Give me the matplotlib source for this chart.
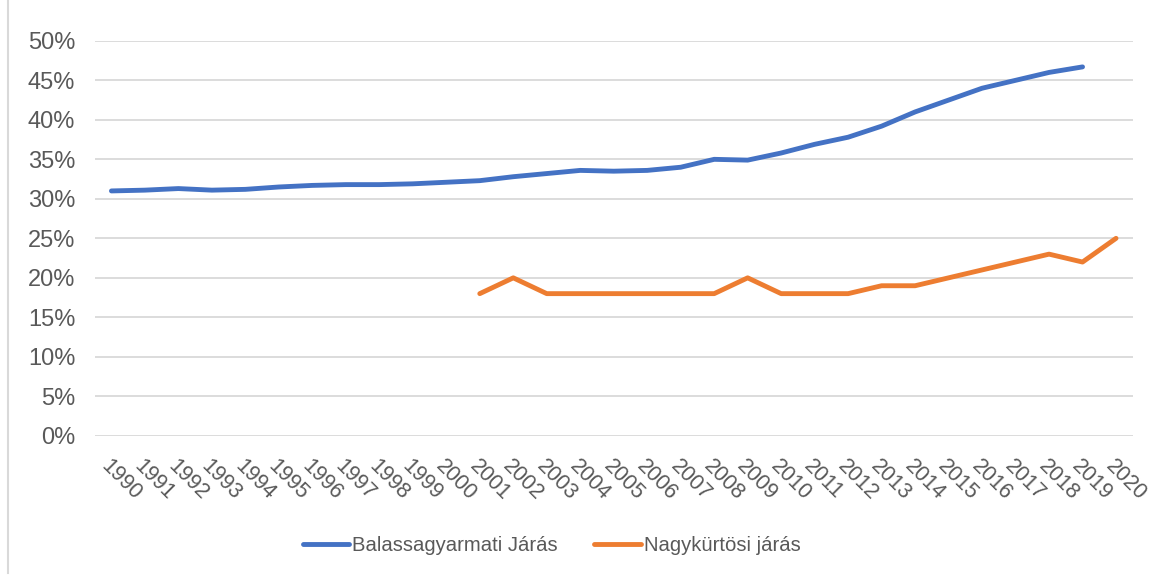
import numpy as np
import matplotlib.pyplot as plt
from matplotlib.lines import Line2D
from matplotlib.ticker import FuncFormatter

plt.rcParams['font.family'] = ['Liberation Sans', 'DejaVu Sans']

years = list(range(1990, 2021))
balassa = [31.0, 31.1, 31.3, 31.1, 31.2, 31.5, 31.7, 31.8, 31.8, 31.9,
           32.1, 32.3, 32.8, 33.2, 33.6, 33.5, 33.6, 34.0, 35.0, 34.9,
           35.8, 36.9, 37.8, 39.2, 41.0, 42.5, 44.0, 45.0, 46.0, 46.7, np.nan]
nagyk = [np.nan] * 11 + [18, 20, 18, 18, 18, 18, 18, 18, 20,
                         18, 18, 18, 19, 19, 20, 21, 22, 23, 22, 25]

fig = plt.figure(figsize=(11.69, 5.75), dpi=100)
ax = fig.add_axes([0.081, 0.242, 0.888, 0.687])

x = np.arange(len(years))
ax.plot(x, np.array(balassa) / 100, color='#4472C4', lw=3.5,
        solid_capstyle='round', solid_joinstyle='round', label='Balassagyarmati Járás')
ax.plot(x, np.array(nagyk) / 100, color='#ED7D31', lw=3.5,
        solid_capstyle='round', solid_joinstyle='round', label='Nagykürtösi járás')

ax.set_xlim(-0.5, len(years) - 0.5)
ax.set_ylim(0, 0.5)
ax.set_yticks(np.arange(0, 0.51, 0.05))
ax.yaxis.set_major_formatter(FuncFormatter(lambda v, p: f'{v*100:.0f}%'))
ax.set_xticks(x)
ax.set_xticklabels([str(y) for y in years], rotation=-45, ha='left', va='top',
                   rotation_mode='anchor')
ax.tick_params(axis='both', length=0, colors='#595959')
ax.tick_params(axis='y', pad=14, labelsize=17)
ax.tick_params(axis='x', pad=14, labelsize=15.5)
ax.grid(axis='y', color='#D9D9D9', lw=1.3)
ax.set_axisbelow(True)
for s in ax.spines.values():
    s.set_visible(False)

leg = fig.legend(loc='center', bbox_to_anchor=(0.472, 0.052), ncol=2, frameon=False,
                 fontsize=14.6, handlelength=2.3, handletextpad=0.15, columnspacing=1.8)
for t in leg.get_texts():
    t.set_color('#595959')

fig.add_artist(Line2D([0.0065, 0.0065], [0.003, 1.0], color='#D9D9D9', lw=1.5,
                      transform=fig.transFigure))

fig.savefig('out.png', dpi=100)
